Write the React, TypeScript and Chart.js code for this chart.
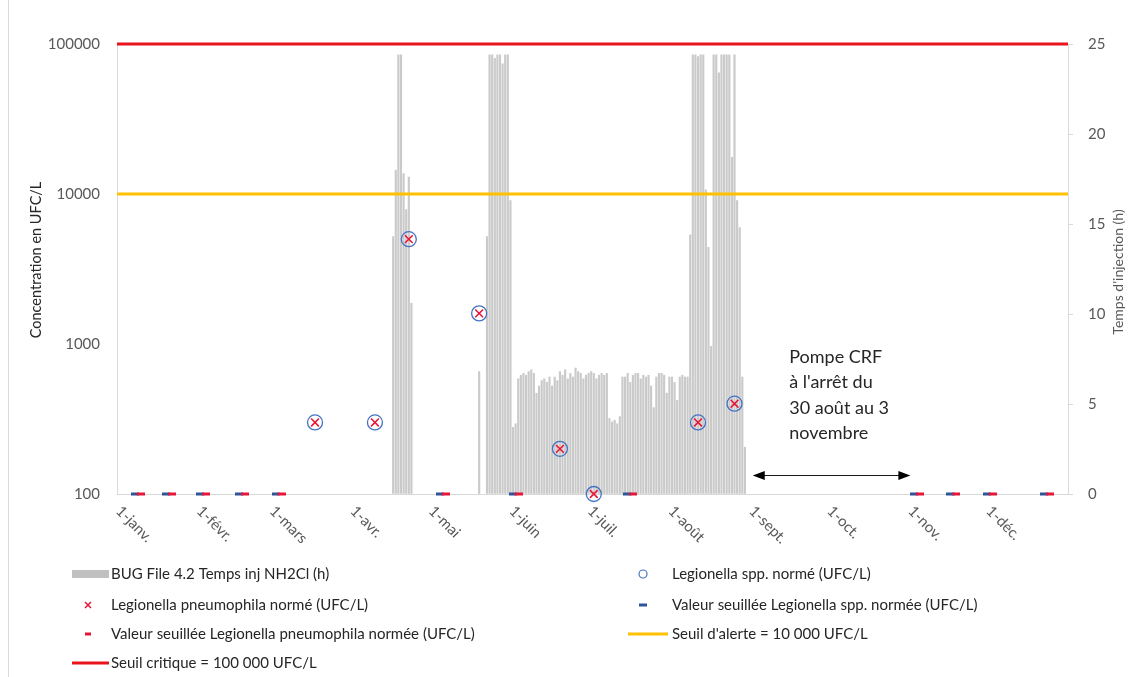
import React, { useEffect, useRef } from 'react';
import { Chart, registerables } from 'chart.js';

Chart.register(...registerables);

const FONT = 'Lato, "Open Sans", sans-serif';

// ---- Axis labels ----
const monthTickDays = [0, 31, 59, 90, 120, 151, 181, 212, 243, 273, 304, 334];
const monthTickLabels = ['1-janv.', '1-févr.', '1-mars', '1-avr.', '1-mai', '1-juin', '1-juil.', '1-août', '1-sept.', '1-oct.', '1-nov.', '1-déc.'];
const concentrationTicks = [100, 1000, 10000, 100000];
const yearRange = [0, 365];

// ---- BUG File 4.2 Temps inj NH2Cl (h), by day of year ----
const injectionDays = [
  106, 107, 108, 109, 110, 111, 112, 113,
  139,
  142, 143, 144, 145, 146, 147, 148, 149, 150, 151, 152, 153,
  154, 155, 156, 157, 158, 159, 160, 161, 162, 163,
  164, 165, 166, 167, 168, 169, 170, 171, 172, 173,
  174, 175, 176, 177, 178, 179, 180, 181, 182, 183,
  184, 185, 186, 187, 188, 189, 190, 191, 192, 193,
  194, 195, 196, 197, 198, 199, 200, 201, 202, 203,
  204, 205, 206, 207, 208, 209, 210, 211, 212, 213,
  214, 215, 216, 217, 218, 219, 220, 221, 222, 223,
  224, 225, 226, 227, 228, 229, 230, 231, 232, 233,
  234, 235, 236, 237, 238, 239, 240, 241,
];
const injectionHours = [
  14.3, 18.0, 24.4, 24.4, 17.8, 15.8, 17.6, 10.6,
  6.8,
  14.3, 24.4, 24.4, 24.2, 24.4, 24.4, 23.9, 24.4, 24.4, 16.3, 3.7, 3.9,
  6.4, 6.6, 6.7, 6.6, 6.8, 6.9, 6.7, 5.6, 6.0, 6.3,
  6.4, 6.2, 6.5, 6.0, 6.5, 6.3, 6.8, 6.6, 6.9, 6.4,
  6.7, 6.5, 7.0, 6.8, 6.7, 6.4, 6.6, 6.7, 6.8, 6.7,
  6.4, 6.6, 6.7, 6.6, 6.7, 4.2, 4.0, 4.1, 3.9, 4.3,
  6.5, 6.5, 6.7, 6.2, 6.6, 6.7, 6.7, 6.4, 6.6, 6.5,
  6.6, 6.0, 4.8, 6.5, 6.7, 6.7, 6.6, 5.6, 6.5, 6.5,
  6.2, 5.2, 6.5, 6.6, 6.5, 6.5, 14.4, 24.4, 24.4, 24.3,
  24.4, 24.4, 16.9, 13.7, 8.2, 24.4, 24.4, 23.4, 24.4, 24.4,
  24.4, 24.4, 18.7, 24.4, 16.3, 14.8, 6.5, 2.6,
];

// ---- Legionella samples (UFC/L) ----
const sampleDays = [76, 99, 112, 139, 170, 183, 223, 237];
const sppValues = [300, 300, 5000, 1600, 200, 100, 300, 400];
const pneumophilaValues = [300, 300, 5000, 1600, 200, 100, 300, 400];

// ---- Thresholded (below detection) values ----
const thresholdDays = [8, 20, 33, 48, 62, 125, 153, 197, 307, 321, 335, 357];
const sppThresholdValues = [100, 100, 100, 100, 100, 100, 100, 100, 100, 100, 100, 100];
const pneumoThresholdValues = [100, 100, 100, 100, 100, 100, 100, 100, 100, 100, 100, 100];

// ---- Reference lines ----
const alertThreshold = 10000;
const criticalThreshold = 100000;

// ---- Annotation ----
const annotationLines = ['Pompe CRF', "à l'arrêt du", '30 août au 3', 'novembre'];
const annotationDay = 258;
const arrowDays = [244, 304.5];
const arrowHours = 1.05;

const legendLeft = [
  'BUG File 4.2 Temps inj NH2Cl (h)',
  'Legionella pneumophila normé (UFC/L)',
  'Valeur seuillée Legionella pneumophila normée (UFC/L)',
  'Seuil critique = 100 000 UFC/L',
];
const legendRight = [
  'Legionella spp. normé (UFC/L)',
  'Valeur seuillée Legionella spp. normée (UFC/L)',
  "Seuil d'alerte = 10 000 UFC/L",
];

const C_BAR = '#cacaca';
const C_BLUE = '#4472c4';
const C_DASH_BLUE = '#2e5597';
const C_RED = '#e8173a';
const C_CRIT = '#e8141b';
const C_ALERT = '#ffc000';
const C_TEXT = '#262626';
const C_TICK = '#595959';
const C_AXIS = '#d9d9d9';

function makeDash(color: string, offset: number) {
  const c = document.createElement('canvas');
  c.width = 14;
  c.height = 4;
  const g = c.getContext('2d')!;
  g.fillStyle = color;
  g.fillRect(offset, 0.5, 8, 3);
  return c;
}

const overlayPlugin = {
  id: 'overlay',
  afterDraw(chart: any) {
    const { ctx, scales, chartArea } = chart;
    const xs = scales.x;
    const y2 = scales.y2;
    ctx.save();

    // frame
    ctx.strokeStyle = C_AXIS;
    ctx.lineWidth = 1;
    ctx.beginPath();
    ctx.moveTo(8.5, 0);
    ctx.lineTo(8.5, 677);
    ctx.stroke();

    // x tick labels (rotated 45° clockwise)
    ctx.font = `15px ${FONT}`;
    ctx.fillStyle = C_TICK;
    ctx.textAlign = 'left';
    ctx.textBaseline = 'middle';
    monthTickDays.forEach((d, i) => {
      const px = xs.getPixelForValue(d);
      ctx.save();
      ctx.translate(px + 1.5, chartArea.bottom + 14.5);
      ctx.rotate(Math.PI / 4);
      ctx.fillText(monthTickLabels[i], 0, 0);
      ctx.restore();
    });

    // left axis title
    ctx.save();
    ctx.font = `14.5px ${FONT}`;
    ctx.fillStyle = C_TEXT;
    ctx.textAlign = 'center';
    ctx.textBaseline = 'middle';
    ctx.translate(36, 260);
    ctx.rotate(-Math.PI / 2);
    ctx.fillText('Concentration en UFC/L', 0, 0);
    ctx.restore();

    // right axis title
    ctx.save();
    ctx.font = `14px ${FONT}`;
    ctx.fillStyle = C_TICK;
    ctx.textAlign = 'center';
    ctx.textBaseline = 'middle';
    ctx.translate(1118, 272);
    ctx.rotate(-Math.PI / 2);
    ctx.fillText("Temps d'injection (h)", 0, 0);
    ctx.restore();

    // annotation text
    ctx.font = `18px ${FONT}`;
    ctx.fillStyle = C_TEXT;
    ctx.textAlign = 'left';
    ctx.textBaseline = 'middle';
    const ax = xs.getPixelForValue(annotationDay);
    annotationLines.forEach((t, i) => {
      ctx.fillText(t, ax, 357 + i * 25.5);
    });

    // double arrow
    const a0 = xs.getPixelForValue(arrowDays[0]);
    const a1 = xs.getPixelForValue(arrowDays[1]);
    const ay = Math.round(y2.getPixelForValue(arrowHours)) + 0.5;
    ctx.strokeStyle = '#1a1a1a';
    ctx.fillStyle = '#000';
    ctx.lineWidth = 1;
    ctx.beginPath();
    ctx.moveTo(a0 + 6, ay);
    ctx.lineTo(a1 - 6, ay);
    ctx.stroke();
    ctx.beginPath();
    ctx.moveTo(a0, ay);
    ctx.lineTo(a0 + 12, ay - 4.5);
    ctx.lineTo(a0 + 12, ay + 4.5);
    ctx.closePath();
    ctx.fill();
    ctx.beginPath();
    ctx.moveTo(a1, ay);
    ctx.lineTo(a1 - 12, ay - 4.5);
    ctx.lineTo(a1 - 12, ay + 4.5);
    ctx.closePath();
    ctx.fill();

    // legend
    const rows = [574, 605, 634, 663];
    ctx.font = `15px ${FONT}`;
    ctx.fillStyle = C_TEXT;
    ctx.textAlign = 'left';
    ctx.textBaseline = 'middle';
    legendLeft.forEach((t, i) => ctx.fillText(t, 111, rows[i]));
    legendRight.forEach((t, i) => ctx.fillText(t, 672, rows[i]));

    // left symbols
    ctx.fillStyle = '#c0c0c0';
    ctx.fillRect(72, rows[0] - 4, 37, 8);
    ctx.strokeStyle = C_RED;
    ctx.lineWidth = 1.5;
    ctx.beginPath();
    ctx.moveTo(85, rows[1] - 3);
    ctx.lineTo(91, rows[1] + 3);
    ctx.moveTo(91, rows[1] - 3);
    ctx.lineTo(85, rows[1] + 3);
    ctx.stroke();
    ctx.fillStyle = C_RED;
    ctx.fillRect(85, rows[2] - 1.5, 6, 3);
    ctx.strokeStyle = C_CRIT;
    ctx.lineWidth = 3;
    ctx.beginPath();
    ctx.moveTo(72, rows[3]);
    ctx.lineTo(109, rows[3]);
    ctx.stroke();

    // right symbols
    ctx.strokeStyle = C_BLUE;
    ctx.lineWidth = 1.2;
    ctx.beginPath();
    ctx.arc(643, rows[0], 4, 0, Math.PI * 2);
    ctx.stroke();
    ctx.fillStyle = C_DASH_BLUE;
    ctx.fillRect(639, rows[1] - 1.5, 8, 3);
    ctx.strokeStyle = C_ALERT;
    ctx.lineWidth = 3;
    ctx.beginPath();
    ctx.moveTo(628, rows[2]);
    ctx.lineTo(668, rows[2]);
    ctx.stroke();

    ctx.restore();
  },
};

export default function App() {
  const ref = useRef<HTMLCanvasElement | null>(null);

  useEffect(() => {
    if (!ref.current) return;
    const dashBlue = makeDash(C_DASH_BLUE, 0);
    const dashRed = makeDash(C_RED, 6);

    const chart = new Chart(ref.current, {
      type: 'bar',
      data: {
        datasets: [
          {
            type: 'line',
            label: 'Legionella spp. normé (UFC/L)',
            data: sampleDays.map((d, i) => ({ x: d, y: sppValues[i] })),
            showLine: false,
            pointStyle: 'circle',
            pointRadius: 7.5,
            pointBorderWidth: 1.3,
            pointBorderColor: C_BLUE,
            pointBackgroundColor: 'rgba(0,0,0,0)',
            xAxisID: 'x',
            yAxisID: 'y',
            clip: false,
            order: 2,
          } as any,
          {
            type: 'line',
            label: 'Legionella pneumophila normé (UFC/L)',
            data: sampleDays.map((d, i) => ({ x: d, y: pneumophilaValues[i] })),
            showLine: false,
            pointStyle: 'crossRot',
            pointRadius: 5.5,
            pointBorderWidth: 1.6,
            pointBorderColor: C_RED,
            xAxisID: 'x',
            yAxisID: 'y',
            clip: false,
            order: 1,
          } as any,
          {
            type: 'line',
            label: 'Valeur seuillée Legionella spp. normée (UFC/L)',
            data: thresholdDays.map((d, i) => ({ x: d, y: sppThresholdValues[i] })),
            showLine: false,
            pointStyle: dashBlue,
            pointRadius: 5,
            xAxisID: 'x',
            yAxisID: 'y',
            clip: false,
            order: 4,
          } as any,
          {
            type: 'line',
            label: 'Valeur seuillée Legionella pneumophila normée (UFC/L)',
            data: thresholdDays.map((d, i) => ({ x: d, y: pneumoThresholdValues[i] })),
            showLine: false,
            pointStyle: dashRed,
            pointRadius: 5,
            xAxisID: 'x',
            yAxisID: 'y',
            clip: false,
            order: 3,
          } as any,
          {
            type: 'line',
            label: "Seuil d'alerte = 10 000 UFC/L",
            data: yearRange.map((d) => ({ x: d, y: alertThreshold })),
            borderColor: C_ALERT,
            borderWidth: 3,
            pointRadius: 0,
            xAxisID: 'x',
            yAxisID: 'y',
            clip: false,
            order: 6,
          } as any,
          {
            type: 'line',
            label: 'Seuil critique = 100 000 UFC/L',
            data: yearRange.map((d) => ({ x: d, y: criticalThreshold })),
            borderColor: C_CRIT,
            borderWidth: 3,
            pointRadius: 0,
            xAxisID: 'x',
            yAxisID: 'y',
            clip: false,
            order: 5,
          } as any,
          {
            type: 'bar',
            label: 'BUG File 4.2 Temps inj NH2Cl (h)',
            data: injectionDays.map((d, i) => ({ x: d, y: injectionHours[i] })),
            backgroundColor: C_BAR,
            borderWidth: 0,
            barThickness: 1.5,
            xAxisID: 'x',
            yAxisID: 'y2',
            order: 10,
          } as any,
        ],
      },
      options: {
        animation: false,
        responsive: true,
        maintainAspectRatio: false,
        layout: { padding: { top: 44, left: 0, right: 0, bottom: 0 }, autoPadding: false },
        plugins: {
          legend: { display: false },
          tooltip: { enabled: false },
          title: { display: false },
        },
        scales: {
          x: {
            type: 'linear',
            position: 'bottom',
            offset: false,
            min: yearRange[0],
            max: yearRange[1],
            ticks: { display: false },
            grid: { display: false, offset: false },
            border: { display: true, color: C_AXIS, width: 1 },
            afterFit: (s: any) => { s.height = 677 - 494; },
          },
          y: {
            type: 'logarithmic',
            position: 'left',
            min: 100,
            max: 100000,
            afterBuildTicks: (s: any) => { s.ticks = concentrationTicks.map((v) => ({ value: v })); },
            ticks: {
              callback: (v: any) => String(v),
              color: C_TICK,
              font: { family: FONT, size: 15 },
              padding: 17,
              autoSkip: false,
            },
            grid: { display: false, drawTicks: false },
            border: { display: true, color: C_AXIS, width: 1 },
            afterFit: (s: any) => { s.width = 117; },
          },
          y2: {
            type: 'linear',
            position: 'right',
            min: 0,
            max: 25,
            ticks: {
              stepSize: 5,
              color: C_TICK,
              font: { family: FONT, size: 15 },
              padding: 15,
            },
            grid: { display: true, drawOnChartArea: false, drawTicks: true, tickLength: 5, color: C_AXIS },
            border: { display: true, color: C_AXIS, width: 1 },
            afterFit: (s: any) => { s.width = 1129 - 1068; },
          },
        },
      } as any,
      plugins: [overlayPlugin],
    });
    return () => chart.destroy();
  }, []);

  return (
    <div style={{ position: 'absolute', left: 0, top: 0, width: 1129, height: 677, background: '#fff' }}>
      <canvas ref={ref} />
    </div>
  );
}
